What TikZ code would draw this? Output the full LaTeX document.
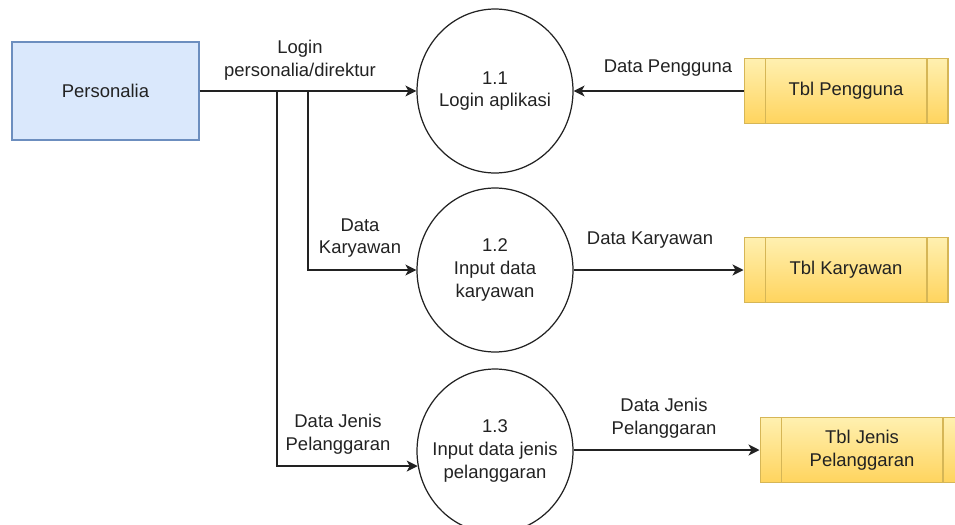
\documentclass[tikz,border=0pt]{standalone}
\usepackage{fontspec}
\setmainfont{Liberation Sans}
\usepackage{xcolor}
\usepackage{tikz}
\usetikzlibrary{shapes,arrows.meta,positioning,calc}
\definecolor{entfill}{HTML}{DAE8FC}
\definecolor{entline}{HTML}{6C8EBF}
\definecolor{tbltop}{HTML}{FFF0B0}
\definecolor{tblbot}{HTML}{FFD45E}
\definecolor{tblline}{HTML}{D6B656}
\definecolor{ink}{HTML}{222222}

\begin{document}
\begin{tikzpicture}[x=0.02cm,y=-0.02cm,
    font=\fontsize{10.5}{13}\selectfont, text=ink,
    entity/.style={draw=entline,fill=entfill,line width=0.7pt,minimum width=3.74cm,minimum height=1.96cm},
    proc/.style={ellipse,draw=ink,line width=0.7pt,minimum width=3.12cm,minimum height=3.28cm,inner sep=0pt},
    store/.style={draw=tblline,top color=tbltop,bottom color=tblbot,line width=0.6pt,
        minimum width=4.08cm,minimum height=1.3cm,align=center,
        path picture={
            \draw[tblline,line width=0.6pt] ([xshift=0.42cm]path picture bounding box.north west) -- ([xshift=0.42cm]path picture bounding box.south west);
            \draw[tblline,line width=0.6pt] ([xshift=-0.42cm]path picture bounding box.north east) -- ([xshift=-0.42cm]path picture bounding box.south east);}},
    flow/.style={draw=ink,line width=0.75pt,-{Stealth[length=2.2mm,width=2.2mm,inset=0.6mm]}},
    lbl/.style={align=center}]
    \useasboundingbox (0,0) rectangle (955,524);

    \node[entity] (personalia) at (105.5,91) {Personalia}; % external entity

    \node[proc] (p11) at (495,91) {};
    \node[lbl] (t11) at (p11) {1.1\\Login aplikasi};
    \node[proc] (p12) at (495,270) {};
    \node[lbl] (t12) at (p12) {1.2\\Input data\\karyawan};
    \node[proc] (p13) at (495,451) {};
    \node[lbl] (t13) at (p13) {1.3\\Input data jenis\\pelanggaran};

    \node[store] (tblpengguna) at (846,91) {Tbl Pengguna}; % data stores
    \node[store] (tblkaryawan) at (846,270) {Tbl Karyawan};
    \node[store] (tbljenis) at (862,450) {Tbl Jenis\\Pelanggaran};

    \coordinate (b1) at (308,91);
    \coordinate (b2) at (277,91);

    \draw[flow] (personalia) -- (p11);
    \draw[flow] (b1) |- (p12);
    \draw[flow] (b2) |- (p13.191);
    \draw[flow] (tblpengguna) -- (p11);
    \draw[flow] (p12) -- (tblkaryawan);
    \draw[flow] (p13.east |- tbljenis) -- (tbljenis);

    \node[lbl] (l1) at (300,60) {Login\\personalia/direktur};
    \node[lbl] (l2) at (668,68) {Data Pengguna};
    \node[lbl] (l3) at (360,238) {Data\\Karyawan};
    \node[lbl] (l4) at (650,240) {Data Karyawan};
    \node[lbl] (l5) at (338,434) {Data Jenis\\Pelanggaran};
    \node[lbl] (l6) at (664,418) {Data Jenis\\Pelanggaran};
\end{tikzpicture}
\end{document}
